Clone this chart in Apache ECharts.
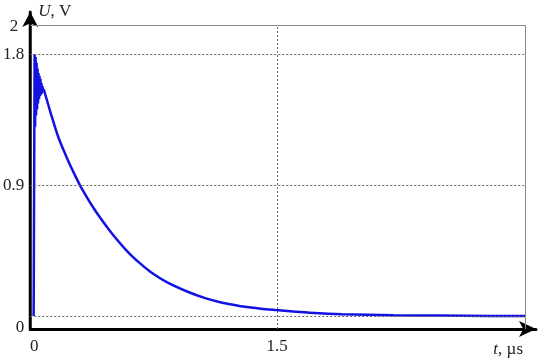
<!DOCTYPE html>
<html lang="en">
<head>
<meta charset="UTF-8">
<script src="https://cdn.jsdelivr.net/npm/echarts@6/dist/echarts.min.js"></script>
<title>U(t)</title>
<style>
  *{margin:0;padding:0}
  html,body{width:100%;height:100%;background:#fff}
  #main{width:550px;height:361px}
</style>
</head>
<body>
<div id="main"></div>
<script type="text/javascript">
// time in microseconds, voltage in volts
// front with ringing
var tFront = [-0.004, 0.000, 0.002, 0.005, 0.008, 0.011, 0.014, 0.017, 0.020, 0.023, 0.026,
  0.029, 0.032, 0.035, 0.038, 0.041, 0.044, 0.047, 0.050, 0.054, 0.058];
var uFront = [0.0, 0.0, 1.80, 1.30, 1.78, 1.38, 1.74, 1.42, 1.70, 1.46, 1.67,
  1.49, 1.65, 1.51, 1.63, 1.52, 1.60, 1.53, 1.58, 1.55, 1.56];
// decay tail
var tDecay = [0.058, 0.10, 0.148, 0.20, 0.25, 0.296, 0.35, 0.407, 0.488, 0.574, 0.65, 0.716,
  0.821, 0.963, 1.05, 1.13, 1.20, 1.29, 1.40, 1.49, 1.60, 1.70, 1.90, 2.22, 2.50, 2.80, 3.03];
var uDecay = [1.56, 1.40, 1.23, 1.09, 0.97, 0.87, 0.77, 0.675, 0.555, 0.445, 0.365, 0.305,
  0.232, 0.16, 0.125, 0.10, 0.083, 0.065, 0.05, 0.041, 0.031, 0.023, 0.013, 0.006, 0.003, 0.001, 0.0];

var xTicks = [0, 1.5];
var yTicks = [0, 0.9, 1.8, 2];
var xGrid = [1.5];
var yGrid = [0, 0.9, 1.8];

var xMin = -0.025, xMax = 3.098, xEnd = 3.03;
var yMin = -0.089, yMax = 2.089, yTop = 2;

var serif = 'Liberation Serif';
var blue = '#1212e2';

function pairs(ts, us) {
  var out = [];
  for (var i = 0; i < ts.length; i++) out.push([ts[i], us[i]]);
  return out;
}

// dotted grid + solid frame (top / right)
var dotted = {color: '#666', width: 1, type: [2, 2]};
var solid = {color: '#888', width: 1, type: 'solid'};
var lines = [];
yGrid.forEach(function (v) {
  lines.push([{coord: [xMin, v], lineStyle: dotted}, {coord: [xEnd, v]}]);
});
xGrid.forEach(function (v) {
  lines.push([{coord: [v, yMin], lineStyle: dotted}, {coord: [v, yTop]}]);
});
lines.push([{coord: [xMin, yTop], lineStyle: solid}, {coord: [xEnd, yTop]}]);
lines.push([{coord: [xEnd, yMin], lineStyle: solid}, {coord: [xEnd, yTop]}]);

var myChart = echarts.init(document.getElementById('main'));

var option = {
  animation: false,
  grid: {left: 30, right: 14, top: 12, bottom: 32},
  xAxis: {
    type: 'value',
    min: xMin,
    max: xMax,
    name: '{i|t}, \u00b5s',
    nameLocation: 'end',
    nameGap: -13,
    nameTextStyle: {
      fontFamily: serif, fontSize: 17, color: '#222',
      align: 'right', verticalAlign: 'top', padding: [12, 0, 0, 0],
      rich: {i: {fontFamily: serif, fontSize: 17, fontStyle: 'italic', color: '#222'}}
    },
    axisLine: {
      onZero: false,
      symbol: ['none', 'arrow'],
      symbolSize: [12, 17],
      lineStyle: {color: '#000', width: 3}
    },
    axisTick: {show: false},
    splitLine: {show: false},
    axisLabel: {
      customValues: xTicks,
      fontFamily: serif, fontSize: 17, color: '#222', margin: 9,
      formatter: function (v) { return String(v); }
    }
  },
  yAxis: {
    type: 'value',
    min: yMin,
    max: yMax,
    name: '{i|U}, V',
    nameLocation: 'end',
    nameGap: 0,
    nameTextStyle: {
      fontFamily: serif, fontSize: 17, color: '#222',
      align: 'left', verticalAlign: 'middle', padding: [0, 0, 0, 8],
      rich: {i: {fontFamily: serif, fontSize: 17, fontStyle: 'italic', color: '#222'}}
    },
    axisLine: {
      onZero: false,
      symbol: ['none', 'arrow'],
      symbolSize: [12, 15],
      lineStyle: {color: '#000', width: 3}
    },
    axisTick: {show: false},
    splitLine: {show: false},
    axisLabel: {
      customValues: yTicks,
      fontFamily: serif, fontSize: 17, color: '#222', margin: 6,
      formatter: function (v) {
        if (v === 0) return '{lo|0}';
        if (v === 2) return '{hi|2}';
        return String(v);
      },
      rich: {
        lo: {fontFamily: serif, fontSize: 17, color: '#222', padding: [22, 0, 0, 0]},
        hi: {fontFamily: serif, fontSize: 17, color: '#222', padding: [4, 6, 0, 0]}
      }
    }
  },
  series: [{
    type: 'line',
    data: pairs(tFront, uFront),
    showSymbol: false,
    smooth: false,
    lineStyle: {color: blue, width: 2.5},
    markLine: {
      silent: true,
      symbol: ['none', 'none'],
      label: {show: false},
      data: lines
    },
    z: 3
  }, {
    type: 'line',
    data: pairs(tDecay, uDecay),
    showSymbol: false,
    smooth: 0.3,
    lineStyle: {color: blue, width: 2.5},
    z: 3
  }]
};
myChart.setOption(option);
</script>
</body>
</html>
